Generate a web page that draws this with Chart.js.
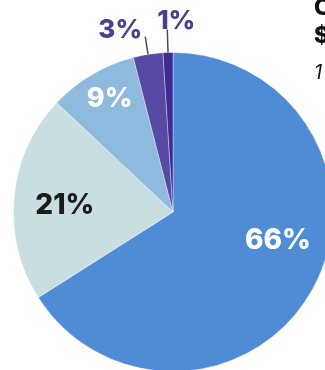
<!DOCTYPE html>
<html>
<head>
<meta charset="utf-8">
<script src="https://cdn.jsdelivr.net/npm/chart.js@4.4.1/dist/chart.umd.min.js"></script>
<style>
  html, body { margin: 0; padding: 0; background: #ffffff; overflow: hidden; width: 325px; height: 370px; }
  #wrap { position: absolute; left: 0; top: 0; width: 346px; height: 384px; }
  .side { position: absolute; left: 314px; color: #111; white-space: nowrap; font-family: "Inter", "DejaVu Sans", sans-serif; }
  #t1 { top: -7px; font-size: 23px; font-weight: 800; }
  #t2 { top: 21px; font-size: 23px; font-weight: 800; }
  #t3 { top: 60px; font-size: 20px; font-style: italic; font-weight: 400; }
</style>
</head>
<body>
<div id="wrap"><canvas id="pie" width="346" height="384"></canvas></div>
<div class="side" id="t1">C</div>
<div class="side" id="t2">$</div>
<div class="side" id="t3">1</div>
<script>
// Share of each category, clockwise from the top
const categories = ['A', 'B', 'C', 'D', 'E'];
const shares = [66, 21, 9, 3, 1];
const sliceColors = ['#508cd6', '#c8dee1', '#8dbadd', '#5849a5', '#3c2e90'];

// Label styling per slice: inside labels sit at a fraction of the slice angle and radius,
// outside labels hang off a short radial leader line.
const labelStyles = [
  { mode: 'in', angleFrac: 0.44, radiusFrac: 0.68, color: '#ffffff', size: 28 },
  { mode: 'in', angleFrac: 0.48, radiusFrac: 0.68, color: '#1b1b1b', size: 28 },
  { mode: 'in', angleFrac: 0.55, radiusFrac: 0.82, color: '#ffffff', size: 27 },
  { mode: 'out', line: 18, dx: -25, dy: -7, color: '#4a3f8e', size: 26 },
  { mode: 'out', line: 23, dx: 9, dy: -9, color: '#4a3f8e', size: 26 }
];

const sliceLabels = {
  id: 'sliceLabels',
  afterDatasetsDraw(chart) {
    const ctx = chart.ctx;
    const meta = chart.getDatasetMeta(0);
    meta.data.forEach((arc, i) => {
      const st = labelStyles[i];
      const p = arc.getProps(['x', 'y', 'startAngle', 'endAngle', 'outerRadius'], true);
      const text = shares[i] + '%';
      let tx, ty;
      if (st.mode === 'in') {
        const a = p.startAngle + (p.endAngle - p.startAngle) * st.angleFrac;
        const r = p.outerRadius * st.radiusFrac;
        tx = p.x + Math.cos(a) * r;
        ty = p.y + Math.sin(a) * r;
      } else {
        const a = (p.startAngle + p.endAngle) / 2;
        const x0 = p.x + Math.cos(a) * p.outerRadius;
        const y0 = p.y + Math.sin(a) * p.outerRadius;
        const x1 = p.x + Math.cos(a) * (p.outerRadius + st.line);
        const y1 = p.y + Math.sin(a) * (p.outerRadius + st.line);
        ctx.save();
        ctx.strokeStyle = '#4d4b5c';
        ctx.lineWidth = 1.5;
        ctx.beginPath();
        ctx.moveTo(x0, y0);
        ctx.lineTo(x1, y1);
        ctx.stroke();
        ctx.restore();
        tx = x1 + st.dx;
        ty = y1 + st.dy;
      }
      ctx.save();
      ctx.font = '800 ' + st.size + 'px Inter, "DejaVu Sans", sans-serif';
      ctx.fillStyle = st.color;
      ctx.textAlign = 'center';
      ctx.textBaseline = 'middle';
      ctx.fillText(text, tx, ty + 1);
      ctx.restore();
    });
  }
};

new Chart(document.getElementById('pie'), {
  type: 'pie',
  data: {
    labels: categories,
    datasets: [{
      data: shares,
      backgroundColor: sliceColors,
      borderColor: 'rgba(255,255,255,0.35)',
      borderWidth: 1
    }]
  },
  options: {
    responsive: false,
    animation: false,
    devicePixelRatio: 1,
    layout: { padding: { left: 13, top: 52, right: 13, bottom: 12 } },
    plugins: {
      legend: { display: false },
      tooltip: { enabled: false }
    }
  },
  plugins: [sliceLabels]
});
</script>
</body>
</html>
